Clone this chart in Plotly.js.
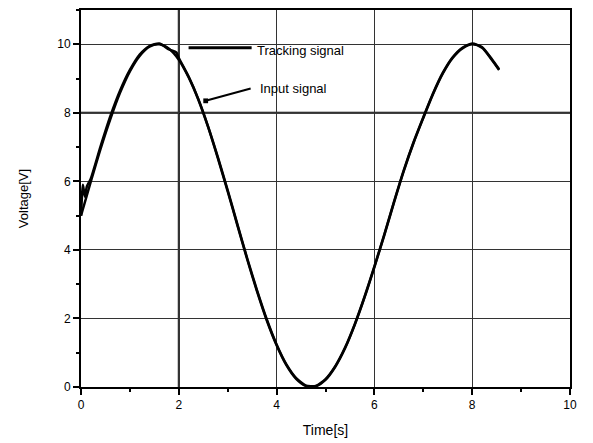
<!DOCTYPE html>
<html>
<head>
<meta charset="utf-8">
<script src="https://cdn.plot.ly/plotly-3.0.1.min.js"></script>
<style>html,body{margin:0;padding:0;background:#fff;}#chart{width:593px;height:443px;}</style>
</head>
<body>
<div id="chart"></div>
<script>
// Input signal
const inputTime = [0, 0.2, 0.4, 0.6, 0.8, 1.0, 1.2, 1.4, 1.6, 1.8, 2.0, 2.2, 2.4, 2.6, 2.8, 3.0, 3.2, 3.4, 3.6, 3.8, 4.0, 4.2, 4.4, 4.6, 4.8, 5.0, 5.2, 5.4, 5.6, 5.8, 6.0, 6.2, 6.4, 6.6, 6.8, 7.0, 7.2, 7.4, 7.6, 7.8, 8.0, 8.2, 8.4, 8.55];
const inputVolt = [5.0, 5.99, 6.95, 7.82, 8.59, 9.21, 9.66, 9.93, 10.0, 9.87, 9.55, 9.04, 8.38, 7.58, 6.67, 5.71, 4.71, 3.72, 2.79, 1.94, 1.22, 0.64, 0.24, 0.03, 0.02, 0.21, 0.59, 1.13, 1.82, 2.62, 3.50, 4.42, 5.38, 6.30, 7.12, 7.85, 8.55, 9.15, 9.60, 9.88, 10.0, 9.90, 9.55, 9.25];
// Tracking signal
const trackTime = [0, 0.04, 0.08, 0.12, 0.2, 0.4, 0.6, 0.8, 1.0, 1.2, 1.4, 1.6, 1.8, 1.95, 2.0, 2.2, 2.4, 2.6, 2.8, 3.0, 3.2, 3.4, 3.6, 3.8, 4.0, 4.2, 4.4, 4.6, 4.8, 5.0, 5.2, 5.4, 5.6, 5.8, 6.0, 6.2, 6.4, 6.6, 6.8, 7.0, 7.2, 7.4, 7.6, 7.8, 8.0, 8.2, 8.4, 8.55];
const trackVolt = [5.0, 5.9, 5.55, 5.85, 6.08, 7.02, 7.9, 8.65, 9.25, 9.7, 9.95, 10.02, 9.85, 9.76, 9.6, 9.06, 8.4, 7.6, 6.7, 5.74, 4.74, 3.75, 2.82, 1.97, 1.24, 0.66, 0.26, 0.04, 0.03, 0.23, 0.61, 1.15, 1.84, 2.64, 3.52, 4.44, 5.4, 6.32, 7.14, 7.87, 8.57, 9.17, 9.62, 9.9, 10.02, 9.92, 9.57, 9.27];

const xRange = [0, 10], yRange = [0, 11];
const majorStep = 2, minorStart = 1;
const xLabel = 'Time[s]';
const yLabel = 'Voltage[V]';
const trackingLabel = 'Tracking signal';
const inputLabel = 'Input signal';

const traces = [
  {x: inputTime, y: inputVolt, mode: 'lines', line: {color: '#000', width: 2.5, shape: 'spline', smoothing: 0.8}, name: inputLabel},
  {x: trackTime, y: trackVolt, mode: 'lines', line: {color: '#000', width: 2.5, shape: 'spline', smoothing: 0.6}, name: trackingLabel}
];

const tickFont = {family: 'Liberation Sans, Arial, sans-serif', size: 12, color: '#000'};
const mainAxis = {
  showline: true, linecolor: '#000', linewidth: 2, mirror: true,
  ticks: 'outside', ticklen: 6, tickwidth: 2, tickcolor: '#000',
  showgrid: true, gridcolor: '#333', gridwidth: 1,
  zeroline: false, tickmode: 'linear', tick0: 0, dtick: majorStep,
  tickfont: tickFont
};
const minorAxis = {
  showline: false, showgrid: false, zeroline: false, showticklabels: false,
  ticks: 'outside', ticklen: 4, tickwidth: 2, tickcolor: '#000',
  tickmode: 'linear', tick0: minorStart, dtick: majorStep
};

const layout = {
  width: 593, height: 443,
  margin: {l: 81, r: 23, t: 10, b: 56},
  paper_bgcolor: '#fff', plot_bgcolor: '#fff',
  showlegend: false,
  font: {family: 'Liberation Sans, Arial, sans-serif', size: 13, color: '#000'},
  xaxis: Object.assign({}, mainAxis, {
    range: xRange, title: {text: xLabel, font: {size: 14}, standoff: 14}
  }),
  yaxis: Object.assign({}, mainAxis, {
    range: yRange, title: {text: yLabel, font: {size: 13}, standoff: 26}
  }),
  xaxis2: Object.assign({}, minorAxis, {range: xRange, overlaying: 'x', anchor: 'y', side: 'bottom'}),
  yaxis2: Object.assign({}, minorAxis, {range: yRange, overlaying: 'y', anchor: 'x', side: 'left'}),
  shapes: [
    {type: 'line', xref: 'paper', yref: 'y', x0: 0, x1: 1, y0: 8, y1: 8, line: {color: '#000', width: 2}, layer: 'below'},
    {type: 'line', xref: 'x', yref: 'paper', x0: 2, x1: 2, y0: 0, y1: 1, line: {color: '#000', width: 2}, layer: 'below'}
  ],
  annotations: [
    {x: 2.2, y: 9.9, xref: 'x', yref: 'y', ax: 3.52, ay: 9.9, axref: 'x', ayref: 'y',
     text: '', showarrow: true, arrowhead: 0, arrowwidth: 3, arrowcolor: '#000'},
    {x: 3.56, y: 9.83, xref: 'x', yref: 'y', text: trackingLabel, showarrow: false, xanchor: 'left',
     font: {size: 13, color: '#000'}},
    {x: 2.55, y: 8.35, xref: 'x', yref: 'y', ax: 3.5, ay: 8.72, axref: 'x', ayref: 'y',
     text: '', showarrow: true, arrowhead: 7, arrowsize: 0.6, arrowwidth: 2, arrowcolor: '#000'},
    {x: 3.62, y: 8.7, xref: 'x', yref: 'y', text: inputLabel, showarrow: false, xanchor: 'left',
     font: {size: 13, color: '#000'}}
  ]
};

// invisible helper trace to activate the minor-tick overlay axes
traces.push({x: [], y: [], xaxis: 'x2', yaxis: 'y2', mode: 'lines', hoverinfo: 'skip', showlegend: false});

Plotly.newPlot('chart', traces, layout, {displayModeBar: false, staticPlot: true});
</script>
</body>
</html>
